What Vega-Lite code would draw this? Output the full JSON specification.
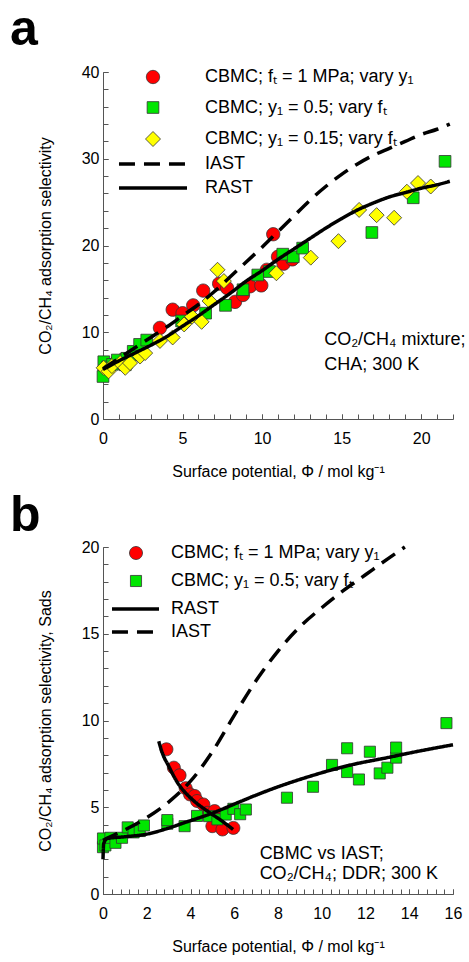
{
  "$schema": "https://vega.github.io/schema/vega-lite/v6.json",
  "padding": {"left": 10, "top": 5, "right": 0, "bottom": 5},
  "background": "white",
  "datasets": {
    "a_lines": [
      {"model": "IAST", "x": 0, "y": 5.8}, {"model": "IAST", "x": 1, "y": 7.0}, {"model": "IAST", "x": 2, "y": 8.2}, {"model": "IAST", "x": 3, "y": 9.4}, {"model": "IAST", "x": 4, "y": 10.6}, {"model": "IAST", "x": 5, "y": 11.9}, {"model": "IAST", "x": 6, "y": 13.2}, {"model": "IAST", "x": 7, "y": 14.7}, {"model": "IAST", "x": 8, "y": 16.4}, {"model": "IAST", "x": 9, "y": 18.1}, {"model": "IAST", "x": 10, "y": 19.8}, {"model": "IAST", "x": 11, "y": 21.6}, {"model": "IAST", "x": 12, "y": 23.4}, {"model": "IAST", "x": 13, "y": 25.2}, {"model": "IAST", "x": 14, "y": 26.8}, {"model": "IAST", "x": 15, "y": 28.2}, {"model": "IAST", "x": 16, "y": 29.4}, {"model": "IAST", "x": 17, "y": 30.4}, {"model": "IAST", "x": 18, "y": 31.2}, {"model": "IAST", "x": 19, "y": 32.0}, {"model": "IAST", "x": 20, "y": 32.8}, {"model": "IAST", "x": 21, "y": 33.4}, {"model": "IAST", "x": 21.8, "y": 34.0},
      {"model": "RAST", "x": 0, "y": 5.7}, {"model": "RAST", "x": 1, "y": 6.7}, {"model": "RAST", "x": 2, "y": 7.6}, {"model": "RAST", "x": 3, "y": 8.5}, {"model": "RAST", "x": 4, "y": 9.5}, {"model": "RAST", "x": 5, "y": 10.7}, {"model": "RAST", "x": 6, "y": 11.9}, {"model": "RAST", "x": 7, "y": 13.2}, {"model": "RAST", "x": 8, "y": 14.5}, {"model": "RAST", "x": 9, "y": 15.9}, {"model": "RAST", "x": 10, "y": 17.1}, {"model": "RAST", "x": 11, "y": 18.4}, {"model": "RAST", "x": 12, "y": 19.6}, {"model": "RAST", "x": 13, "y": 20.8}, {"model": "RAST", "x": 14, "y": 22.0}, {"model": "RAST", "x": 15, "y": 23.1}, {"model": "RAST", "x": 16, "y": 24.1}, {"model": "RAST", "x": 17, "y": 24.9}, {"model": "RAST", "x": 18, "y": 25.6}, {"model": "RAST", "x": 19, "y": 26.1}, {"model": "RAST", "x": 20, "y": 26.6}, {"model": "RAST", "x": 21, "y": 27.0}, {"model": "RAST", "x": 21.8, "y": 27.4}
    ],
    "a_pts": [
      {"series": "CBMC; fₜ = 1 MPa; vary y₁", "x": 0.1, "y": 5.8}, {"series": "CBMC; fₜ = 1 MPa; vary y₁", "x": 0.4, "y": 6.0}, {"series": "CBMC; fₜ = 1 MPa; vary y₁", "x": 0.8, "y": 6.5}, {"series": "CBMC; fₜ = 1 MPa; vary y₁", "x": 1.3, "y": 6.9}, {"series": "CBMC; fₜ = 1 MPa; vary y₁", "x": 2.0, "y": 7.6}, {"series": "CBMC; fₜ = 1 MPa; vary y₁", "x": 3.58, "y": 10.5}, {"series": "CBMC; fₜ = 1 MPa; vary y₁", "x": 4.38, "y": 12.6}, {"series": "CBMC; fₜ = 1 MPa; vary y₁", "x": 5.0, "y": 12.2}, {"series": "CBMC; fₜ = 1 MPa; vary y₁", "x": 5.67, "y": 13.1}, {"series": "CBMC; fₜ = 1 MPa; vary y₁", "x": 6.3, "y": 14.8}, {"series": "CBMC; fₜ = 1 MPa; vary y₁", "x": 7.3, "y": 15.6}, {"series": "CBMC; fₜ = 1 MPa; vary y₁", "x": 7.8, "y": 15.1}, {"series": "CBMC; fₜ = 1 MPa; vary y₁", "x": 8.3, "y": 13.5}, {"series": "CBMC; fₜ = 1 MPa; vary y₁", "x": 8.8, "y": 14.3}, {"series": "CBMC; fₜ = 1 MPa; vary y₁", "x": 9.25, "y": 15.3}, {"series": "CBMC; fₜ = 1 MPa; vary y₁", "x": 9.95, "y": 15.4}, {"series": "CBMC; fₜ = 1 MPa; vary y₁", "x": 10.3, "y": 17.2}, {"series": "CBMC; fₜ = 1 MPa; vary y₁", "x": 10.7, "y": 21.3}, {"series": "CBMC; fₜ = 1 MPa; vary y₁", "x": 11.0, "y": 18.7}, {"series": "CBMC; fₜ = 1 MPa; vary y₁", "x": 11.35, "y": 17.9}, {"series": "CBMC; fₜ = 1 MPa; vary y₁", "x": 11.9, "y": 18.4},
      {"series": "CBMC; y₁ = 0.5; vary fₜ", "x": 0.0, "y": 4.9}, {"series": "CBMC; y₁ = 0.5; vary fₜ", "x": 0.05, "y": 6.6}, {"series": "CBMC; y₁ = 0.5; vary fₜ", "x": 0.3, "y": 6.0}, {"series": "CBMC; y₁ = 0.5; vary fₜ", "x": 0.6, "y": 6.3}, {"series": "CBMC; y₁ = 0.5; vary fₜ", "x": 0.9, "y": 6.8}, {"series": "CBMC; y₁ = 0.5; vary fₜ", "x": 1.4, "y": 6.25}, {"series": "CBMC; y₁ = 0.5; vary fₜ", "x": 1.5, "y": 7.0}, {"series": "CBMC; y₁ = 0.5; vary fₜ", "x": 1.9, "y": 7.8}, {"series": "CBMC; y₁ = 0.5; vary fₜ", "x": 2.1, "y": 7.4}, {"series": "CBMC; y₁ = 0.5; vary fₜ", "x": 2.3, "y": 8.6}, {"series": "CBMC; y₁ = 0.5; vary fₜ", "x": 2.75, "y": 9.1}, {"series": "CBMC; y₁ = 0.5; vary fₜ", "x": 4.94, "y": 11.3}, {"series": "CBMC; y₁ = 0.5; vary fₜ", "x": 6.45, "y": 12.2}, {"series": "CBMC; y₁ = 0.5; vary fₜ", "x": 7.7, "y": 13.1}, {"series": "CBMC; y₁ = 0.5; vary fₜ", "x": 8.8, "y": 14.9}, {"series": "CBMC; y₁ = 0.5; vary fₜ", "x": 9.73, "y": 16.6}, {"series": "CBMC; y₁ = 0.5; vary fₜ", "x": 10.46, "y": 17.0}, {"series": "CBMC; y₁ = 0.5; vary fₜ", "x": 11.3, "y": 19.0}, {"series": "CBMC; y₁ = 0.5; vary fₜ", "x": 11.96, "y": 18.7}, {"series": "CBMC; y₁ = 0.5; vary fₜ", "x": 12.55, "y": 19.7}, {"series": "CBMC; y₁ = 0.5; vary fₜ", "x": 16.9, "y": 21.5}, {"series": "CBMC; y₁ = 0.5; vary fₜ", "x": 19.5, "y": 25.5}, {"series": "CBMC; y₁ = 0.5; vary fₜ", "x": 21.5, "y": 29.7},
      {"series": "CBMC; y₁ = 0.15; vary fₜ", "x": 0.04, "y": 5.9}, {"series": "CBMC; y₁ = 0.15; vary fₜ", "x": 0.35, "y": 5.5}, {"series": "CBMC; y₁ = 0.15; vary fₜ", "x": 0.56, "y": 6.1}, {"series": "CBMC; y₁ = 0.15; vary fₜ", "x": 1.08, "y": 6.45}, {"series": "CBMC; y₁ = 0.15; vary fₜ", "x": 1.4, "y": 5.9}, {"series": "CBMC; y₁ = 0.15; vary fₜ", "x": 1.7, "y": 6.45}, {"series": "CBMC; y₁ = 0.15; vary fₜ", "x": 2.33, "y": 7.2}, {"series": "CBMC; y₁ = 0.15; vary fₜ", "x": 2.65, "y": 7.6}, {"series": "CBMC; y₁ = 0.15; vary fₜ", "x": 3.58, "y": 9.0}, {"series": "CBMC; y₁ = 0.15; vary fₜ", "x": 4.38, "y": 9.4}, {"series": "CBMC; y₁ = 0.15; vary fₜ", "x": 5.1, "y": 10.9}, {"series": "CBMC; y₁ = 0.15; vary fₜ", "x": 5.6, "y": 11.8}, {"series": "CBMC; y₁ = 0.15; vary fₜ", "x": 6.2, "y": 11.2}, {"series": "CBMC; y₁ = 0.15; vary fₜ", "x": 6.7, "y": 13.6}, {"series": "CBMC; y₁ = 0.15; vary fₜ", "x": 7.2, "y": 17.2}, {"series": "CBMC; y₁ = 0.15; vary fₜ", "x": 7.6, "y": 15.9}, {"series": "CBMC; y₁ = 0.15; vary fₜ", "x": 10.9, "y": 16.8}, {"series": "CBMC; y₁ = 0.15; vary fₜ", "x": 13.06, "y": 18.6}, {"series": "CBMC; y₁ = 0.15; vary fₜ", "x": 14.8, "y": 20.5}, {"series": "CBMC; y₁ = 0.15; vary fₜ", "x": 16.1, "y": 24.1}, {"series": "CBMC; y₁ = 0.15; vary fₜ", "x": 17.2, "y": 23.5}, {"series": "CBMC; y₁ = 0.15; vary fₜ", "x": 18.3, "y": 23.2}, {"series": "CBMC; y₁ = 0.15; vary fₜ", "x": 19.1, "y": 26.2}, {"series": "CBMC; y₁ = 0.15; vary fₜ", "x": 19.8, "y": 27.2}, {"series": "CBMC; y₁ = 0.15; vary fₜ", "x": 20.6, "y": 26.8}
    ],
    "b_lines": [
      {"model": "IAST", "curve": "iast", "x": 0, "y": 3.1}, {"model": "IAST", "curve": "iast", "x": 0.5, "y": 3.4}, {"model": "IAST", "curve": "iast", "x": 1, "y": 3.7}, {"model": "IAST", "curve": "iast", "x": 2, "y": 4.4}, {"model": "IAST", "curve": "iast", "x": 3, "y": 5.3}, {"model": "IAST", "curve": "iast", "x": 4, "y": 6.5}, {"model": "IAST", "curve": "iast", "x": 5, "y": 8.2}, {"model": "IAST", "curve": "iast", "x": 6, "y": 10.3}, {"model": "IAST", "curve": "iast", "x": 7, "y": 12.3}, {"model": "IAST", "curve": "iast", "x": 8, "y": 14.0}, {"model": "IAST", "curve": "iast", "x": 9, "y": 15.4}, {"model": "IAST", "curve": "iast", "x": 10, "y": 16.5}, {"model": "IAST", "curve": "iast", "x": 11, "y": 17.5}, {"model": "IAST", "curve": "iast", "x": 12, "y": 18.4}, {"model": "IAST", "curve": "iast", "x": 13, "y": 19.3}, {"model": "IAST", "curve": "iast", "x": 13.8, "y": 20.0},
      {"model": "RAST", "curve": "rast_ft", "x": 0, "y": 2.0}, {"model": "RAST", "curve": "rast_ft", "x": 0.03, "y": 2.9}, {"model": "RAST", "curve": "rast_ft", "x": 0.2, "y": 3.2}, {"model": "RAST", "curve": "rast_ft", "x": 1, "y": 3.3}, {"model": "RAST", "curve": "rast_ft", "x": 2, "y": 3.45}, {"model": "RAST", "curve": "rast_ft", "x": 3, "y": 3.8}, {"model": "RAST", "curve": "rast_ft", "x": 3.7, "y": 4.1}, {"model": "RAST", "curve": "rast_ft", "x": 5.08, "y": 4.7}, {"model": "RAST", "curve": "rast_ft", "x": 6.15, "y": 5.26}, {"model": "RAST", "curve": "rast_ft", "x": 7, "y": 5.7}, {"model": "RAST", "curve": "rast_ft", "x": 7.83, "y": 6.1}, {"model": "RAST", "curve": "rast_ft", "x": 9.5, "y": 6.8}, {"model": "RAST", "curve": "rast_ft", "x": 11.2, "y": 7.4}, {"model": "RAST", "curve": "rast_ft", "x": 13, "y": 7.86}, {"model": "RAST", "curve": "rast_ft", "x": 14.5, "y": 8.25}, {"model": "RAST", "curve": "rast_ft", "x": 16, "y": 8.6},
      {"model": "RAST", "curve": "rast_y1", "x": 2.55, "y": 8.8}, {"model": "RAST", "curve": "rast_y1", "x": 2.75, "y": 8.0}, {"model": "RAST", "curve": "rast_y1", "x": 2.95, "y": 7.5}, {"model": "RAST", "curve": "rast_y1", "x": 3.39, "y": 6.45}, {"model": "RAST", "curve": "rast_y1", "x": 4.08, "y": 5.45}, {"model": "RAST", "curve": "rast_y1", "x": 4.77, "y": 4.78}, {"model": "RAST", "curve": "rast_y1", "x": 5.38, "y": 4.26}, {"model": "RAST", "curve": "rast_y1", "x": 5.95, "y": 3.72}
    ],
    "b_pts": [
      {"series": "CBMC; fₜ = 1 MPa; vary y₁", "x": 2.9, "y": 8.34}, {"series": "CBMC; fₜ = 1 MPa; vary y₁", "x": 3.24, "y": 7.28}, {"series": "CBMC; fₜ = 1 MPa; vary y₁", "x": 3.5, "y": 6.84}, {"series": "CBMC; fₜ = 1 MPa; vary y₁", "x": 3.78, "y": 6.1}, {"series": "CBMC; fₜ = 1 MPa; vary y₁", "x": 3.98, "y": 5.74}, {"series": "CBMC; fₜ = 1 MPa; vary y₁", "x": 4.19, "y": 5.65}, {"series": "CBMC; fₜ = 1 MPa; vary y₁", "x": 4.3, "y": 5.36}, {"series": "CBMC; fₜ = 1 MPa; vary y₁", "x": 4.59, "y": 5.16}, {"series": "CBMC; fₜ = 1 MPa; vary y₁", "x": 4.77, "y": 4.68}, {"series": "CBMC; fₜ = 1 MPa; vary y₁", "x": 5.1, "y": 4.78}, {"series": "CBMC; fₜ = 1 MPa; vary y₁", "x": 5.15, "y": 4.3}, {"series": "CBMC; fₜ = 1 MPa; vary y₁", "x": 5.0, "y": 3.91}, {"series": "CBMC; fₜ = 1 MPa; vary y₁", "x": 5.46, "y": 3.72}, {"series": "CBMC; fₜ = 1 MPa; vary y₁", "x": 5.96, "y": 3.81},
      {"series": "CBMC; y₁ = 0.5; vary fₜ", "x": 0, "y": 2.7}, {"series": "CBMC; y₁ = 0.5; vary fₜ", "x": 0, "y": 3.2}, {"series": "CBMC; y₁ = 0.5; vary fₜ", "x": 0.11, "y": 2.8}, {"series": "CBMC; y₁ = 0.5; vary fₜ", "x": 0.34, "y": 3.24}, {"series": "CBMC; y₁ = 0.5; vary fₜ", "x": 0.57, "y": 2.95}, {"series": "CBMC; y₁ = 0.5; vary fₜ", "x": 0.87, "y": 3.24}, {"series": "CBMC; y₁ = 0.5; vary fₜ", "x": 1.13, "y": 3.84}, {"series": "CBMC; y₁ = 0.5; vary fₜ", "x": 1.4, "y": 3.55}, {"series": "CBMC; y₁ = 0.5; vary fₜ", "x": 1.68, "y": 3.63}, {"series": "CBMC; y₁ = 0.5; vary fₜ", "x": 1.87, "y": 3.95}, {"series": "CBMC; y₁ = 0.5; vary fₜ", "x": 2.94, "y": 4.05}, {"series": "CBMC; y₁ = 0.5; vary fₜ", "x": 2.94, "y": 4.26}, {"series": "CBMC; y₁ = 0.5; vary fₜ", "x": 3.73, "y": 3.91}, {"series": "CBMC; y₁ = 0.5; vary fₜ", "x": 4.3, "y": 4.5}, {"series": "CBMC; y₁ = 0.5; vary fₜ", "x": 4.85, "y": 4.49}, {"series": "CBMC; y₁ = 0.5; vary fₜ", "x": 5.23, "y": 4.3}, {"series": "CBMC; y₁ = 0.5; vary fₜ", "x": 5.61, "y": 4.58}, {"series": "CBMC; y₁ = 0.5; vary fₜ", "x": 5.96, "y": 4.91}, {"series": "CBMC; y₁ = 0.5; vary fₜ", "x": 6.27, "y": 4.6}, {"series": "CBMC; y₁ = 0.5; vary fₜ", "x": 6.53, "y": 4.87}, {"series": "CBMC; y₁ = 0.5; vary fₜ", "x": 8.41, "y": 5.55}, {"series": "CBMC; y₁ = 0.5; vary fₜ", "x": 9.6, "y": 6.18}, {"series": "CBMC; y₁ = 0.5; vary fₜ", "x": 10.47, "y": 7.44}, {"series": "CBMC; y₁ = 0.5; vary fₜ", "x": 11.16, "y": 7.03}, {"series": "CBMC; y₁ = 0.5; vary fₜ", "x": 11.16, "y": 8.4}, {"series": "CBMC; y₁ = 0.5; vary fₜ", "x": 11.7, "y": 6.6}, {"series": "CBMC; y₁ = 0.5; vary fₜ", "x": 12.2, "y": 8.2}, {"series": "CBMC; y₁ = 0.5; vary fₜ", "x": 12.65, "y": 6.95}, {"series": "CBMC; y₁ = 0.5; vary fₜ", "x": 13.0, "y": 7.28}, {"series": "CBMC; y₁ = 0.5; vary fₜ", "x": 13.4, "y": 7.86}, {"series": "CBMC; y₁ = 0.5; vary fₜ", "x": 13.4, "y": 8.44}, {"series": "CBMC; y₁ = 0.5; vary fₜ", "x": 15.7, "y": 9.85}
    ]
  },
  "vconcat": [
    {
      "width": 350,
      "height": 347,
      "title": {"text": "a", "anchor": "start", "frame": "group", "dx": -93, "offset": -31, "fontSize": 50, "fontWeight": "bold", "baseline": "alphabetic"},
      "layer": [
        {
          "data": {"name": "a_pts"},
          "mark": {"type": "point", "filled": true, "opacity": 1, "size": 225, "stroke": "#333333", "strokeWidth": 0.8},
          "encoding": {
            "x": {"field": "x", "type": "quantitative", "scale": {"domain": [0, 22], "nice": false},
              "axis": {"orient": "bottom", "values": [0,1,2,3,4,5,6,7,8,9,10,11,12,13,14,15,16,17,18,19,20,21,22], "labels": false, "domain": false, "title": null}},
            "y": {"field": "y", "type": "quantitative", "scale": {"domain": [0, 40], "nice": false},
              "axis": {"orient": "left", "values": [0,2,4,6,8,10,12,14,16,18,20,22,24,26,28,30,32,34,36,38,40], "labels": false, "domain": false, "title": null}},
            "color": {"field": "series", "type": "nominal",
              "scale": {"domain": ["CBMC; fₜ = 1 MPa; vary y₁", "CBMC; y₁ = 0.5; vary fₜ", "CBMC; y₁ = 0.15; vary fₜ"], "range": ["#ff0000", "#00e600", "#ffff00"]},
              "legend": {"orient": "none", "legendX": 41, "legendY": -4, "title": null, "padding": 0, "labelFontSize": 18, "labelLimit": 400, "labelOffset": 43, "rowPadding": 12.5, "symbolSize": 225, "symbolStrokeColor": "#333333", "symbolStrokeWidth": 0.8, "symbolOpacity": 1}},
            "shape": {"field": "series", "type": "nominal",
              "scale": {"domain": ["CBMC; fₜ = 1 MPa; vary y₁", "CBMC; y₁ = 0.5; vary fₜ", "CBMC; y₁ = 0.15; vary fₜ"], "range": ["M-0.887,0A0.887,0.887,0,1,0,0.887,0A0.887,0.887,0,1,0,-0.887,0Z", "M-0.78,-0.78H0.78V0.78H-0.78Z", "diamond"]}}
          }
        },
        {
          "data": {"name": "a_lines"},
          "mark": {"type": "line", "color": "black", "strokeWidth": 3.5, "interpolate": "monotone"},
          "encoding": {
            "x": {"field": "x", "type": "quantitative",
              "axis": {"orient": "bottom", "title": "Surface potential, Φ /  mol kg⁻¹", "values": [0, 5, 10, 15, 20], "labelFlush": false}},
            "y": {"field": "y", "type": "quantitative",
              "axis": {"orient": "left", "title": "CO₂/CH₄  adsorption selectivity", "values": [0, 10, 20, 30, 40]}},
            "strokeDash": {"field": "model", "type": "nominal",
              "scale": {"domain": ["IAST", "RAST"], "range": [[16, 9], [1, 0]]},
              "legend": {"orient": "none", "legendX": 41, "legendY": 83, "title": null, "padding": 0, "labelFontSize": 18, "labelLimit": 400, "labelOffset": 43, "rowPadding": 6, "symbolType": "M-4.86,0H4.86", "symbolSize": 196, "symbolStrokeWidth": 3.5, "symbolStrokeColor": "black"}}
          }
        },
        {
          "data": {"values": [{}]},
          "mark": {"type": "text", "text": ["CO₂/CH₄ mixture;", "CHA; 300 K"], "align": "left", "baseline": "alphabetic", "fontSize": 18, "lineHeight": 25, "color": "black"},
          "encoding": {"x": {"datum": 13.9, "axis": null}, "y": {"datum": 8.58, "axis": null}}
        }
      ],
      "resolve": {"axis": {"x": "independent", "y": "independent"}}
    },
    {
      "width": 350,
      "height": 347,
      "title": {"text": "b", "anchor": "start", "frame": "group", "dx": -93, "offset": -42, "fontSize": 50, "fontWeight": "bold", "baseline": "alphabetic"},
      "layer": [
        {
          "data": {"name": "b_pts"},
          "mark": {"type": "point", "filled": true, "opacity": 1, "size": 225, "stroke": "#333333", "strokeWidth": 0.8},
          "encoding": {
            "x": {"field": "x", "type": "quantitative", "scale": {"domain": [0, 16], "nice": false},
              "axis": {"orient": "bottom", "values": [0,0.4,0.8,1.2,1.6,2,2.4,2.8,3.2,3.6,4,4.4,4.8,5.2,5.6,6,6.4,6.8,7.2,7.6,8,8.4,8.8,9.2,9.6,10,10.4,10.8,11.2,11.6,12,12.4,12.8,13.2,13.6,14,14.4,14.8,15.2,15.6,16], "labels": false, "domain": false, "title": null}},
            "y": {"field": "y", "type": "quantitative", "scale": {"domain": [0, 20], "nice": false},
              "axis": {"orient": "left", "values": [0,1,2,3,4,5,6,7,8,9,10,11,12,13,14,15,16,17,18,19,20], "labels": false, "domain": false, "title": null}},
            "color": {"field": "series", "type": "nominal",
              "scale": {"domain": ["CBMC; fₜ = 1 MPa; vary y₁", "CBMC; y₁ = 0.5; vary fₜ"], "range": ["#ff0000", "#00e600"]},
              "legend": {"orient": "none", "legendX": 24, "legendY": -3, "title": null, "padding": 0, "labelFontSize": 18, "labelLimit": 400, "labelOffset": 26, "rowPadding": 10, "symbolSize": 225, "symbolStrokeColor": "#333333", "symbolStrokeWidth": 0.8, "symbolOpacity": 1}},
            "shape": {"field": "series", "type": "nominal",
              "scale": {"domain": ["CBMC; fₜ = 1 MPa; vary y₁", "CBMC; y₁ = 0.5; vary fₜ"], "range": ["M-0.867,0A0.867,0.867,0,1,0,0.867,0A0.867,0.867,0,1,0,-0.867,0Z", "M-0.74,-0.74H0.74V0.74H-0.74Z"]}}
          }
        },
        {
          "data": {"name": "b_lines"},
          "mark": {"type": "line", "color": "black", "strokeWidth": 3.5, "interpolate": "monotone"},
          "encoding": {
            "x": {"field": "x", "type": "quantitative",
              "axis": {"orient": "bottom", "title": "Surface potential, Φ /  mol kg⁻¹", "values": [0, 2, 4, 6, 8, 10, 12, 14, 16], "labelFlush": false}},
            "y": {"field": "y", "type": "quantitative",
              "axis": {"orient": "left", "title": "CO₂/CH₄ adsorption selectivity, Sads", "values": [0, 5, 10, 15, 20]}},
            "detail": {"field": "curve", "type": "nominal"},
            "strokeDash": {"field": "model", "type": "nominal",
              "scale": {"domain": ["RAST", "IAST"], "range": [[1, 0], [16, 9]]},
              "legend": {"orient": "none", "legendX": 23.5, "legendY": 53, "title": null, "padding": 0, "labelFontSize": 18, "labelLimit": 400, "labelOffset": 26.5, "rowPadding": 5, "symbolType": "M-3.36,0H3.36", "symbolSize": 196, "symbolStrokeWidth": 3.5, "symbolStrokeColor": "black"}}
          }
        },
        {
          "data": {"values": [{}]},
          "mark": {"type": "text", "text": [" CBMC vs IAST;", "CO₂/CH₄; DDR; 300 K"], "align": "left", "baseline": "alphabetic", "fontSize": 18, "lineHeight": 20, "color": "black"},
          "encoding": {"x": {"datum": 7.16, "axis": null}, "y": {"datum": 1.99, "axis": null}}
        }
      ],
      "resolve": {"axis": {"x": "independent", "y": "independent"}}
    }
  ],
  "spacing": 12,
  "resolve": {
    "scale": {"x": "independent", "y": "independent", "color": "independent", "shape": "independent", "strokeDash": "independent"},
    "legend": {"color": "independent", "shape": "independent", "strokeDash": "independent"}
  },
  "config": {
    "font": "Liberation Sans",
    "view": {"stroke": null},
    "axis": {"grid": false, "domainColor": "#555555", "tickColor": "#555555", "tickSize": -5, "labelFontSize": 16, "titleFontSize": 16, "labelColor": "black", "titleColor": "black", "titleFontWeight": "normal", "labelPadding": 9, "labelOverlap": false, "labelFont": "Liberation Sans", "titleFont": "Liberation Sans"},
    "axisX": {"labelPadding": 16, "titlePadding": 17},
    "axisY": {"titlePadding": 28},
    "legend": {"labelFont": "Liberation Sans", "labelColor": "black"},
    "title": {"font": "Liberation Sans", "color": "black"}
  }
}
